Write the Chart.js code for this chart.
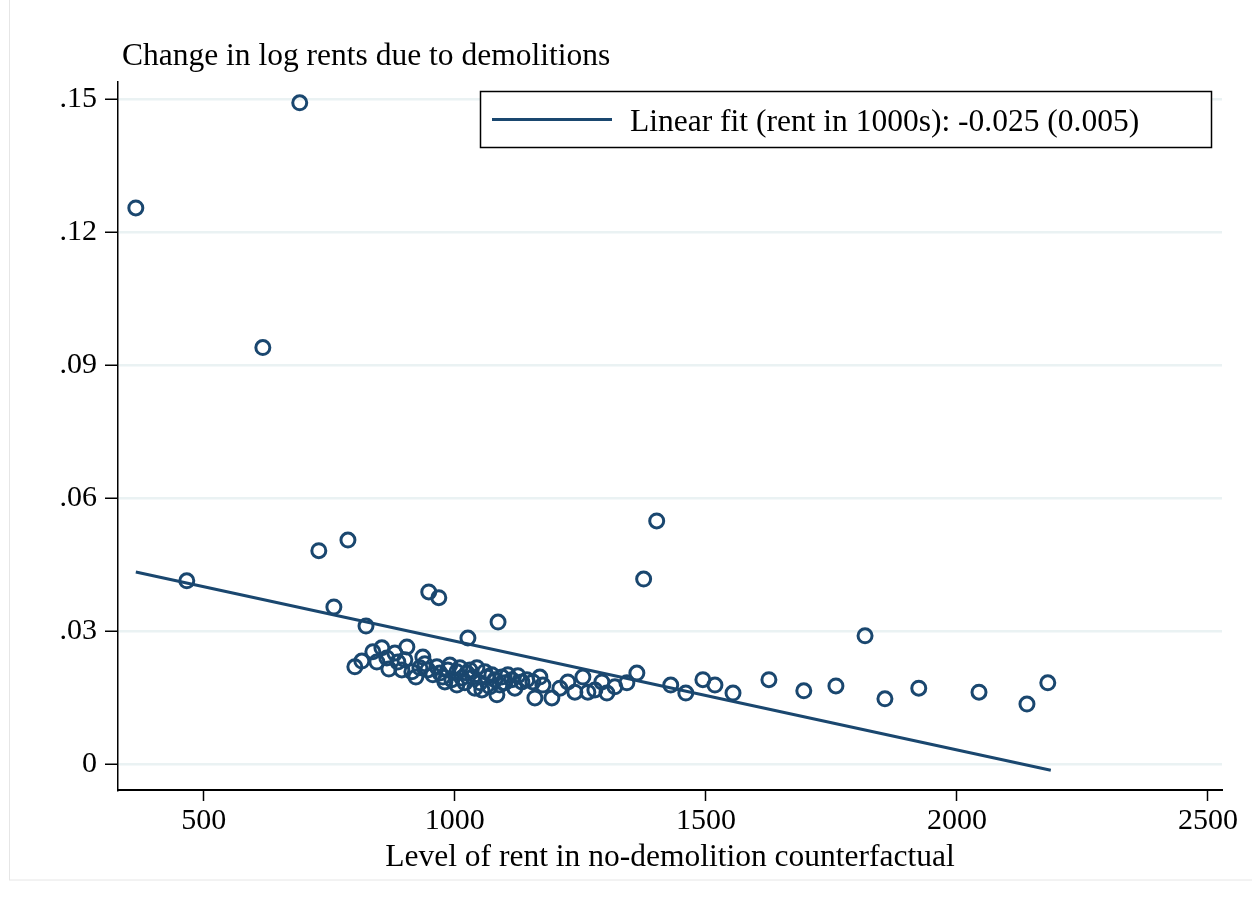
<!DOCTYPE html>
<html>
<head>
<meta charset="utf-8">
<script src="https://cdn.jsdelivr.net/npm/chart.js@4.4.1/dist/chart.umd.min.js"></script>
<style>
  html, body { margin: 0; padding: 0; background: #fff; }
  #wrap { width: 1252px; height: 907px; position: relative; }
</style>
</head>
<body>
<div id="wrap"><canvas id="myChart" width="1252" height="907"></canvas></div>
<script>
// scatter points: rent level vs change in log rents
const rentLevel = [
  364.5, 691, 617.5, 466, 729, 787, 759, 823, 948, 968, 1026, 1086, 1402, 1376, 1817,
  1342.6, 1362.5, 1430, 1460, 1494, 1518, 1554, 1625.5, 1695, 1759, 1856.6, 1924, 2044, 2139.5, 2181,
  800.8, 814.7, 836.6, 854.6, 844.6, 868.5, 864.5, 880.5, 886.4, 904.4, 900.4, 894.4, 914.3, 922.3,
  936.2, 930.3, 946.2, 964.1, 956.2, 976.1, 986.0, 994.0, 1004.0, 1013.9, 1023.9, 1004.0, 1043.8,
  1035.8, 1049.8, 1053.8, 1063.7, 1069.7, 1083.7, 1079.7, 1093.6, 1099.6, 1113.5, 1119.5, 1133.5,
  1143.4, 1155.4, 1169.3, 1175.3, 1159.4, 1193.2, 1209.2, 1225.1, 1239.0, 1255.0, 1264.9, 1278.9,
  1292.8, 1302.8, 1318.7,
  940.2, 970.1, 990.0, 1010.0, 1029.9, 1059.8, 1073.7, 1089.6, 1105.6, 1125.5, 1019.9, 980.1, 1039.8
];
const logRentChange = [
  0.1254, 0.1491, 0.0939, 0.0413, 0.0481, 0.0505, 0.0354, 0.0311, 0.0388, 0.0375, 0.0284, 0.0320, 0.0548, 0.0417, 0.0289,
  0.0183, 0.0205, 0.0178, 0.0160, 0.0190, 0.0178, 0.0160, 0.0190, 0.0165, 0.0176, 0.0147, 0.0171, 0.0162, 0.0135, 0.0183,
  0.0219, 0.0232, 0.0253, 0.0262, 0.0230, 0.0214, 0.0239, 0.0250, 0.0230, 0.0264, 0.0235, 0.0212, 0.0208, 0.0196,
  0.0241, 0.0217, 0.0212, 0.0219, 0.0201, 0.0196, 0.0212, 0.0190, 0.0208, 0.0194, 0.0205, 0.0178, 0.0217,
  0.0196, 0.0183, 0.0167, 0.0196, 0.0174, 0.0156, 0.0190, 0.0196, 0.0183, 0.0190, 0.0171, 0.0185,
  0.0190, 0.0185, 0.0196, 0.0178, 0.0149, 0.0149, 0.0171, 0.0185, 0.0162, 0.0196, 0.0162, 0.0167,
  0.0185, 0.0160, 0.0174,
  0.0226, 0.0205, 0.0223, 0.0217, 0.0212, 0.0208, 0.0201, 0.0178, 0.0201, 0.0199, 0.0183, 0.0185, 0.0171
];

// fitted line end points
const fitX = [364.5, 2187];
const fitY = [0.0433, -0.0014];

const xTicks = [500, 1000, 1500, 2000, 2500];
const yTicks = [0, 0.03, 0.06, 0.09, 0.12, 0.15];
const yTickLabels = ['0', '.03', '.06', '.09', '.12', '.15'];

const yTitle = 'Change in log rents due to demolitions';
const xTitle = 'Level of rent in no-demolition counterfactual';
const fitLabel = 'Linear fit (rent in 1000s): -0.025 (0.005)';

const navy = '#1a476f';
const serif = '"Liberation Serif", "Times New Roman", serif';

const ctx = document.getElementById('myChart');

const extras = {
  id: 'extras',
  beforeDraw(chart) {
    const c = chart.ctx;
    c.save();
    c.fillStyle = '#fff';
    c.fillRect(0, 0, chart.width, chart.height);
    c.strokeStyle = '#e6e6e6';
    c.lineWidth = 1;
    c.strokeRect(9.5, -2, 1300, 882);
    c.restore();
  },
  afterDraw(chart) {
    const c = chart.ctx;
    const area = chart.chartArea;
    c.save();
    c.fillStyle = '#000';
    c.font = '31.5px ' + serif;
    c.textBaseline = 'alphabetic';
    c.textAlign = 'left';
    c.fillText(yTitle, 122, 65);
    c.textAlign = 'center';
    c.fillText(xTitle, (area.left + area.right) / 2, 866);

    // legend box
    c.fillStyle = '#fff';
    c.fillRect(480, 91, 732, 57);
    c.strokeStyle = '#000';
    c.lineWidth = 1.5;
    c.strokeRect(480.5, 91.5, 731, 56);
    c.strokeStyle = navy;
    c.lineWidth = 3;
    c.beginPath();
    c.moveTo(492, 119.5);
    c.lineTo(612, 119.5);
    c.stroke();
    c.fillStyle = '#000';
    c.textAlign = 'left';
    c.fillText(fitLabel, 630, 131);
    c.restore();
  }
};

new Chart(ctx, {
  type: 'scatter',
  data: {
    datasets: [{
      type: 'line',
      label: fitLabel,
      data: fitX.map((x, i) => ({ x: x, y: fitY[i] })),
      borderColor: navy,
      borderWidth: 3,
      pointRadius: 0,
      fill: false
    }, {
      label: 'points',
      data: rentLevel.map((x, i) => ({ x: x, y: logRentChange[i] })),
      pointStyle: 'circle',
      pointRadius: 7,
      borderColor: navy,
      borderWidth: 3,
      backgroundColor: 'rgba(0,0,0,0)'
    }]
  },
  options: {
    responsive: false,
    animation: false,
    layout: { padding: { left: 0, right: 30, top: 82, bottom: 0 } },
    plugins: {
      legend: { display: false },
      tooltip: { enabled: false }
    },
    scales: {
      x: {
        type: 'linear',
        min: 329,
        max: 2528,
        afterBuildTicks: (s) => { s.ticks = xTicks.map(v => ({ value: v })); },
        afterFit: (s) => { s.height = 117; },
        border: { color: '#000', width: 2 },
        grid: { drawOnChartArea: false, tickColor: '#000', tickLength: 11, tickWidth: 1.5 },
        ticks: {
          color: '#000',
          font: { family: serif, size: 30 },
          padding: 2,
          maxRotation: 0,
          callback: (v) => String(v)
        }
      },
      y: {
        type: 'linear',
        min: -0.00587,
        max: 0.1538,
        afterBuildTicks: (s) => { s.ticks = yTicks.map(v => ({ value: v })); },
        afterFit: (s) => { s.width = 118; },
        border: { color: '#000', width: 1.5 },
        grid: { color: '#eaf2f3', lineWidth: 2.5, tickColor: '#000', tickLength: 13, tickWidth: 1.5 },
        ticks: {
          color: '#000',
          font: { family: serif, size: 30 },
          padding: 8,
          callback: (v) => {
            const i = yTicks.indexOf(v);
            return i >= 0 ? yTickLabels[i] : '';
          }
        }
      }
    }
  },
  plugins: [extras]
});
</script>
</body>
</html>
